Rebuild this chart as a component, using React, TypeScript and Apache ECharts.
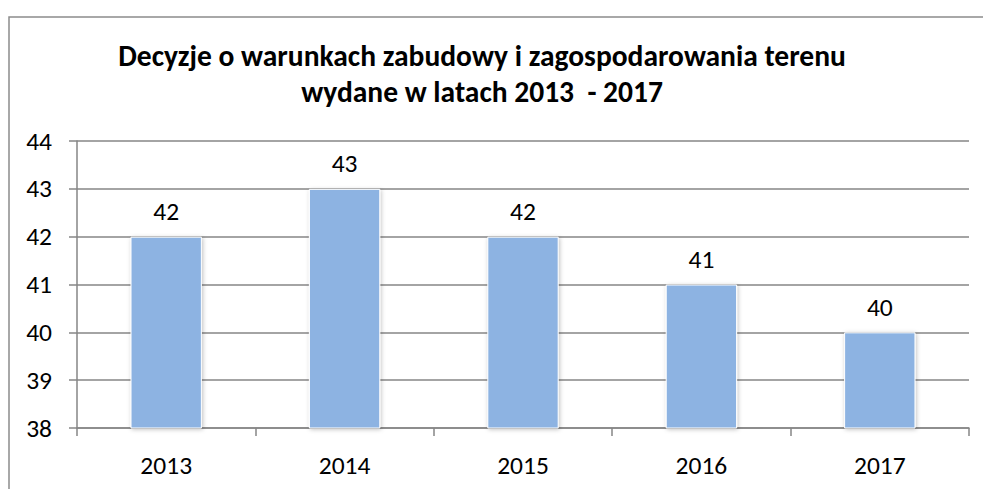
import React, { useEffect, useRef } from "react";
import * as echarts from "echarts";

const titleLines = ["Decyzje o warunkach zabudowy i zagospodarowania terenu", "wydane w latach 2013  - 2017"];
const categories = ["2013", "2014", "2015", "2016", "2017"];
const values = [42, 43, 42, 41, 40];
const yMin = 38;
const yMax = 44;

export default function App() {
  const ref = useRef<HTMLDivElement>(null);
  useEffect(() => {
    document.body.style.margin = "0";
    const chart = echarts.init(ref.current!, null, { renderer: "svg" });
    const font = "Carlito, Calibri, 'Liberation Sans', sans-serif";
    chart.setOption({
      animation: false,
      backgroundColor: "#ffffff",
      title: {
        text: titleLines.join("\n"),
        left: 477,
        textAlign: "center",
        top: 33,
        textStyle: { fontFamily: font, fontWeight: "bold", fontSize: 29.5, lineHeight: 36, color: "#000" },
      },
      graphic: [
        {
          type: "rect",
          shape: { x: 9, y: 17, width: 1000, height: 500 },
          style: { fill: "none", stroke: "#8c8c8c", lineWidth: 1.5 },
          silent: true,
        },
      ],
      grid: { left: 77, top: 141, right: 14, bottom: 61 },
      xAxis: {
        type: "category",
        data: categories,
        axisLine: { show: true, lineStyle: { color: "#868686", width: 1.5 } },
        axisTick: { show: true, length: 8, alignWithLabel: false, lineStyle: { color: "#868686", width: 1.5 } },
        axisLabel: { fontFamily: font, fontSize: 25.5, color: "#000", margin: 24 },
      },
      yAxis: {
        type: "value",
        min: yMin,
        max: yMax,
        interval: 1,
        axisLine: { show: true, lineStyle: { color: "#868686", width: 1.5 } },
        axisTick: { show: true, length: 8, lineStyle: { color: "#868686", width: 1.5 } },
        splitLine: { show: true, lineStyle: { color: "#868686", width: 1.5 } },
        axisLabel: { fontFamily: font, fontSize: 25.5, color: "#000", margin: 25 },
      },
      series: [
        {
          type: "bar",
          data: values,
          barWidth: "40%",
          itemStyle: {
            color: "#8db3e2",
            borderColor: "#ffffff",
            borderWidth: 1,
            shadowBlur: 4,
            shadowColor: "rgba(0,0,0,0.25)",
            shadowOffsetX: 1,
            shadowOffsetY: 1,
          },
          label: {
            show: true,
            position: "top",
            distance: 12,
            fontFamily: font,
            fontSize: 25.5,
            color: "#000",
          },
        },
      ],
    });
    return () => chart.dispose();
  }, []);
  return <div ref={ref} style={{ width: 983, height: 489 }} />;
}
